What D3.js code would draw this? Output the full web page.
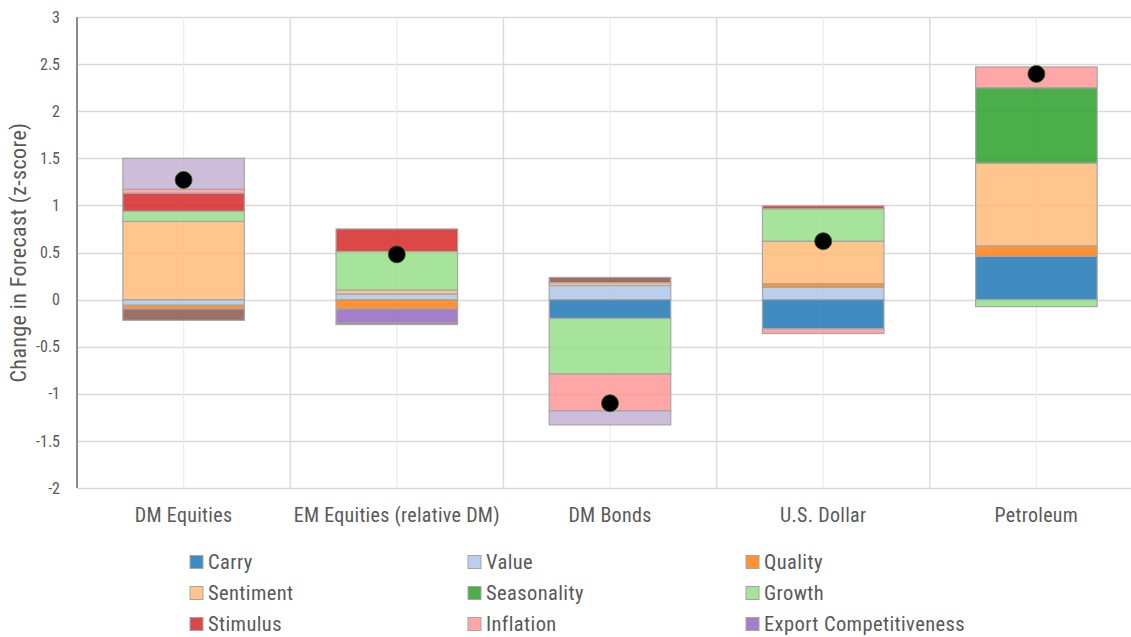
<!DOCTYPE html>
<html>
<head>
<meta charset="utf-8">
<script src="https://cdn.jsdelivr.net/npm/d3@7"></script>
<style>
  body { margin: 0; background: #fff; }
  text { font-family: "Roboto Condensed", "Liberation Sans Narrow", "Roboto", sans-serif; fill: #595959; }
</style>
</head>
<body>
<svg id="chart" width="1131" height="637"></svg>
<script>
// categories along the x axis
const categories = ["DM Equities", "EM Equities (relative DM)", "DM Bonds", "U.S. Dollar", "Petroleum"];

// factor contributions per category (z-score), one array per factor
const carry       = [0,     0,     -0.20, -0.31, 0.46];
const value       = [-0.06, 0.06,  0.15,  0.13,  0];
const quality     = [-0.04, -0.10, 0,     0.04,  0.11];
const sentiment   = [0.83,  0.04,  0.03,  0.45,  0.88];
const seasonality = [0,     0,     0,     0,     0.80];
const growth      = [0.11,  0.41,  -0.59, 0.345, -0.075];
const stimulus    = [0.19,  0.24,  0,     0.03,  0];
const inflation   = [0.04,  0,     -0.39, -0.05, 0.22];
const exportComp  = [0,     -0.15, 0,     0,     0];
const otherA      = [0.33,  0,     -0.15, 0,     0];     // light purple, not in legend
const otherB      = [-0.12, -0.015, 0.055, 0,    0];     // brown, not in legend

// net change in forecast (black dots)
const netChange = [1.27, 0.48, -1.10, 0.62, 2.395];

const seriesNames = ["Carry", "Value", "Quality", "Sentiment", "Seasonality", "Growth",
  "Stimulus", "Inflation", "Export Competitiveness", "Other A", "Other B"];
const seriesValues = [carry, value, quality, sentiment, seasonality, growth,
  stimulus, inflation, exportComp, otherA, otherB];
const seriesColors = ["#1f77b4", "#aec7e8", "#ff7f0e", "#ffbb78", "#2ca02c", "#98df8a",
  "#d62728", "#ff9896", "#9467bd", "#c5b0d5", "#8c564b"];
const legendCount = 9;

const yTicks = [3, 2.5, 2, 1.5, 1, 0.5, 0, -0.5, -1, -1.5, -2];

const svg = d3.select("#chart");
const margin = { left: 77, top: 17 };
const bandW = 213.2;
const plotH = 471;

const x = d3.scaleBand()
  .domain(categories)
  .range([margin.left, margin.left + bandW * categories.length])
  .paddingInner(0.43)
  .paddingOuter(0.215);

const y = d3.scaleLinear().domain([-2, 3]).range([margin.top + plotH, margin.top]);

// stacked data
const rows = categories.map((c, i) => {
  const r = { cat: c };
  seriesNames.forEach((s, k) => r[s] = seriesValues[k][i]);
  return r;
});
const stack = d3.stack().keys(seriesNames).offset(d3.stackOffsetDiverging);
const layers = stack(rows);

const color = d3.scaleOrdinal().domain(seriesNames).range(seriesColors);

// horizontal gridlines
svg.append("g").selectAll("line")
  .data(yTicks)
  .join("line")
  .attr("x1", margin.left).attr("x2", 1131)
  .attr("y1", d => Math.round(y(d)) + 0.5).attr("y2", d => Math.round(y(d)) + 0.5)
  .attr("stroke", "#d9d9d9").attr("stroke-width", 1.5);

// vertical gridlines: band centers (light) and band boundaries (darker)
const centers = categories.map(c => x(c) + x.bandwidth() / 2);
svg.append("g").selectAll("line")
  .data(centers)
  .join("line")
  .attr("x1", d => d).attr("x2", d => d)
  .attr("y1", y(3)).attr("y2", y(-2))
  .attr("stroke", "#ececec").attr("stroke-width", 1.2);
svg.append("g").selectAll("line")
  .data(centers.slice(0, -1).map(d => d + bandW / 2))
  .join("line")
  .attr("x1", d => d).attr("x2", d => d)
  .attr("y1", y(3)).attr("y2", y(-2))
  .attr("stroke", "#dcdcdc").attr("stroke-width", 1.5);

// y axis line
svg.append("line")
  .attr("x1", margin.left).attr("x2", margin.left)
  .attr("y1", y(3)).attr("y2", y(-2))
  .attr("stroke", "#8c8c8c").attr("stroke-width", 2);

// y tick labels (plain hyphen for negatives)
svg.append("g").selectAll("text")
  .data(yTicks)
  .join("text")
  .attr("x", 60)
  .attr("y", d => y(d))
  .attr("dy", "0.35em")
  .attr("text-anchor", "end")
  .style("font-size", "16px")
  .text(d => String(d));

// y axis title
svg.append("text")
  .attr("transform", `translate(26,${y(0.5)}) rotate(-90)`)
  .attr("text-anchor", "middle")
  .style("font-size", "22px")
  .style("letter-spacing", "0.4px")
  .text("Change in Forecast (z-score)");

// stacked bars
svg.append("g").selectAll("g")
  .data(layers)
  .join("g")
  .attr("fill", d => color(d.key))
  .attr("fill-opacity", 0.85)
  .selectAll("rect")
  .data(d => d.filter(p => p[1] - p[0] !== 0))
  .join("rect")
  .attr("x", d => x(d.data.cat))
  .attr("width", x.bandwidth())
  .attr("y", d => y(d[1]))
  .attr("height", d => y(d[0]) - y(d[1]))
  .attr("stroke", "#a6a6a6")
  .attr("stroke-width", 1.2);

// net change dots
svg.append("g").selectAll("circle")
  .data(netChange)
  .join("circle")
  .attr("cx", (d, i) => x(categories[i]) + x.bandwidth() / 2)
  .attr("cy", d => y(d))
  .attr("r", 8.5)
  .attr("fill", "#000")
  .attr("stroke", "#3a5a1a")
  .attr("stroke-width", 0.8);

// x labels
svg.append("g").selectAll("text")
  .data(categories)
  .join("text")
  .attr("x", d => x(d) + x.bandwidth() / 2)
  .attr("y", 515)
  .attr("dy", "0.35em")
  .attr("text-anchor", "middle")
  .style("font-size", "20px")
  .style("letter-spacing", "0.3px")
  .text(d => d);

// legend
const legendItems = seriesNames.slice(0, legendCount);
const legend = svg.append("g").selectAll("g")
  .data(legendItems)
  .join("g")
  .attr("transform", (d, i) => `translate(${190 + (i % 3) * 278},${562 + Math.floor(i / 3) * 31})`);
legend.append("rect")
  .attr("x", 0).attr("y", -6.5)
  .attr("width", 13).attr("height", 13)
  .attr("fill", d => color(d)).attr("fill-opacity", 0.85)
  .attr("stroke", "#a6a6a6").attr("stroke-width", 1);
legend.append("text")
  .attr("x", 18).attr("y", 0).attr("dy", "0.35em")
  .style("font-size", "20.5px")
  .style("letter-spacing", "0.4px")
  .text(d => d);
</script>
</body>
</html>
